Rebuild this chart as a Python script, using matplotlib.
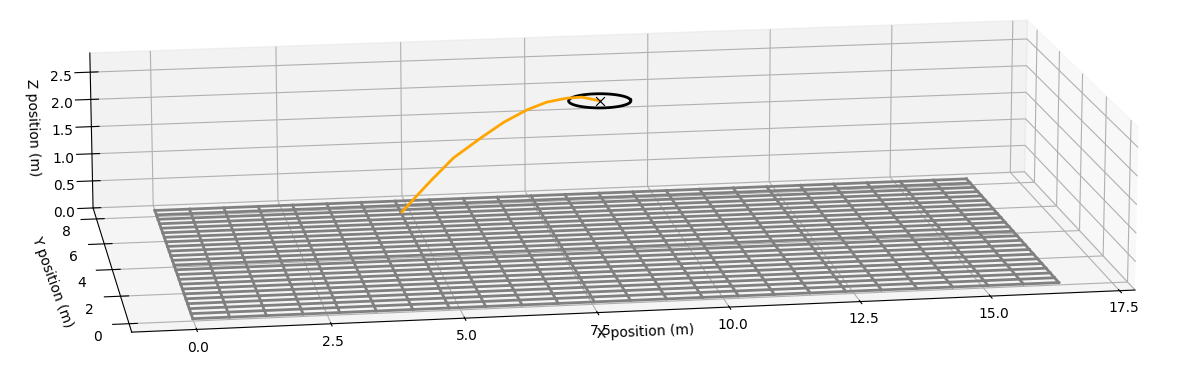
import matplotlib
matplotlib.use("Agg")
import matplotlib.pyplot as plt
import numpy as np

# landing mat grid lines (m)
grid_x = np.linspace(0, 16.5, 25)
grid_y = np.linspace(0.17, 8.5, 24)
grid_z = 0.0

# target ring
target_x = 8.82
target_y = 7.6
target_z = 1.91
target_r = 0.62

# flight path
path_x = [4.84, 5.1, 5.44, 5.88, 6.45, 6.89, 7.35, 7.75, 8.15, 8.46, 8.82]
path_y = [7.6] * 11
path_z = [0.0, 0.25, 0.57, 0.96, 1.32, 1.58, 1.79, 1.92, 1.98, 1.99, 1.91]

x_limits = (-1.2, 17.8)
y_limits = (-0.6, 8.9)
z_limits = (0.0, 2.85)

fig = plt.figure(figsize=(11.84, 3.74), dpi=100)
ax = fig.add_axes([0.003, 0.035, 1, 1], projection='3d')

for gx in grid_x:
    ax.plot([gx, gx], [grid_y[0], grid_y[-1]], [grid_z, grid_z], c='gray', lw=2, clip_on=False)
for gy in grid_y:
    ax.plot([grid_x[0], grid_x[-1]], [gy, gy], [grid_z, grid_z], c='gray', lw=2, clip_on=False)

theta = np.radians(np.arange(0, 361, 5))
ax.plot(target_x + target_r*np.cos(theta), target_y + target_r*np.sin(theta),
        np.full_like(theta, target_z), c='k', lw=2, clip_on=False)
ax.scatter([target_x], [target_y], [target_z], c='k', marker='x', s=40, lw=0.8, clip_on=False)
ax.plot(path_x, path_y, path_z, c='orange', lw=2, clip_on=False)

ax.set_xlim(*x_limits)
ax.set_ylim(*y_limits)
ax.set_zlim(*z_limits)
ax.set_xticks([0, 2.5, 5, 7.5, 10, 12.5, 15, 17.5])
ax.set_yticks([0, 2, 4, 6, 8])
ax.set_zticks([0, 0.5, 1, 1.5, 2, 2.5])
ax.tick_params(axis='x', pad=-2.8)
ax.tick_params(axis='y', pad=-3.6)
ax.tick_params(axis='z', pad=-3.9)
ax.set_xlabel('X position (m)', labelpad=-11)
ax.view_init(elev=14, azim=-99)
ax.set_proj_type('persp', focal_length=3)
ax.set_box_aspect((3.0, 1.476, 0.50), zoom=2.87)

# y and z labels would land off the page with the 3d axis placement
fig.text(52/1184, 1 - 282/374, 'Y position (m)', rotation=-70, ha='center', va='center', rotation_mode='anchor')
fig.text(33/1184, 1 - 128/374, 'Z position (m)', rotation=-88, ha='center', va='center', rotation_mode='anchor')

fig.savefig('out.png', dpi=100)
